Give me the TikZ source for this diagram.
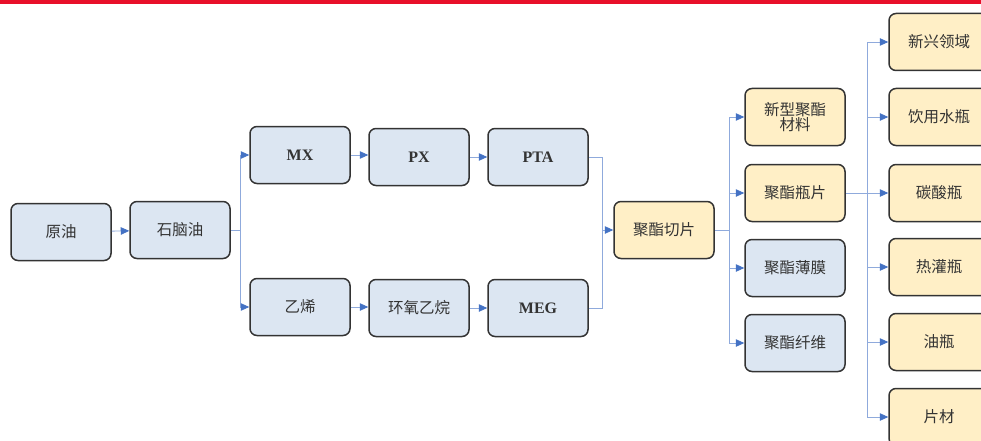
\documentclass[tikz,border=0pt]{standalone}
\usepackage{fontspec}
\setmainfont{Liberation Serif}
\newfontfamily\cjk{Noto Sans CJK SC}
\usetikzlibrary{arrows.meta,calc}
\definecolor{redbar}{HTML}{E8102A}
\definecolor{bluefill}{HTML}{DCE6F2}
\definecolor{creamfill}{HTML}{FFEFC6}
\definecolor{edgegray}{HTML}{333333}
\definecolor{linkblue}{HTML}{8FAADC}
\definecolor{tipblue}{HTML}{4472C4}
\definecolor{txtgray}{HTML}{333333}
\tikzset{
  basebox/.style={draw=edgegray, line width=1.5pt, rounded corners=7pt,
    minimum width=100pt, minimum height=57pt, inner sep=2pt,
    text=txtgray, font=\fontsize{15.5}{17.5}\selectfont\cjk, align=center},
  bluebox/.style={basebox, fill=bluefill},
  creambox/.style={basebox, fill=creamfill},
  latin/.style={font=\fontsize{16}{18}\selectfont\bfseries},
  link/.style={draw=linkblue, line width=0.8pt},
  arrowlink/.style={link, -{Triangle[length=8.5pt,width=7.5pt,fill=tipblue,color=tipblue]}}
}
\begin{document}
\begin{tikzpicture}[x=1pt,y=-1pt]
\useasboundingbox (0,0) rectangle (981,441);
\fill[white] (0,0) rectangle (981,441);
\fill[redbar] (0,0) rectangle (981,4);

% left chain
\node[bluebox] (yuanyou) at (61,232) {原油};
\node[bluebox] (naphtha) at (180,230) {石脑油};
\node[bluebox,latin] (mx) at (300,155) {MX};
\node[bluebox,latin] (px) at (419,157) {PX};
\node[bluebox,latin] (pta) at (538,157) {PTA};
\node[bluebox] (yixi) at (300,307) {乙烯};
\node[bluebox] (hyyw) at (419,308) {环氧乙烷};
\node[bluebox,latin] (meg) at (538,308) {MEG};
\node[creambox] (qiepian) at (664,230) {聚酯切片};

% middle column
\node[creambox] (xinxing) at (795,117) {新型聚酯\\[-2pt]材料};
\node[creambox] (pingpian) at (795,193) {聚酯瓶片};
\node[bluebox] (bomo) at (795,268) {聚酯薄膜};
\node[bluebox] (xianwei) at (795,343) {聚酯纤维};

% right column
\node[creambox] (r1) at (939,42) {新兴领域};
\node[creambox] (r2) at (939,117) {饮用水瓶};
\node[creambox] (r3) at (939,193) {碳酸瓶};
\node[creambox] (r4) at (939,267) {热灌瓶};
\node[creambox] (r5) at (939,342) {油瓶};
\node[creambox] (r6) at (939,417) {片材};

% connectors
\draw[arrowlink] (yuanyou) -- (naphtha);
\coordinate (j1) at ($(naphtha.east)+(10,0)$);
\draw[link] (naphtha.east) -- (j1);
\draw[arrowlink] (j1) |- (mx.west);
\draw[arrowlink] (j1) |- (yixi.west);
\draw[arrowlink] (mx.east) -- (px.west |- mx.east);
\draw[arrowlink] (px) -- (pta);
\draw[arrowlink] (yixi.east) -- (hyyw.west |- yixi.east);
\draw[arrowlink] (hyyw) -- (meg);

\coordinate (j2) at ($(pta.east)+(14,0)$);
\draw[link] (pta.east) -- (j2);
\draw[link] (meg.east) -- (j2 |- meg.east);
\draw[link] (j2) -- (j2 |- meg.east);
\draw[arrowlink] (j2 |- qiepian.west) -- (qiepian.west);

\coordinate (j3) at ($(qiepian.east)+(15,0)$);
\draw[link] (qiepian.east) -- (j3);
\foreach \t in {xinxing,pingpian,bomo,xianwei}
  \draw[arrowlink] (j3) |- (\t.west);

\coordinate (j4) at (867,193);
\draw[link] (pingpian.east) -- (j4);
\foreach \t in {r1,r2,r3,r4,r5,r6}
  \draw[arrowlink] (j4) |- (\t.west);
\end{tikzpicture}
\end{document}
